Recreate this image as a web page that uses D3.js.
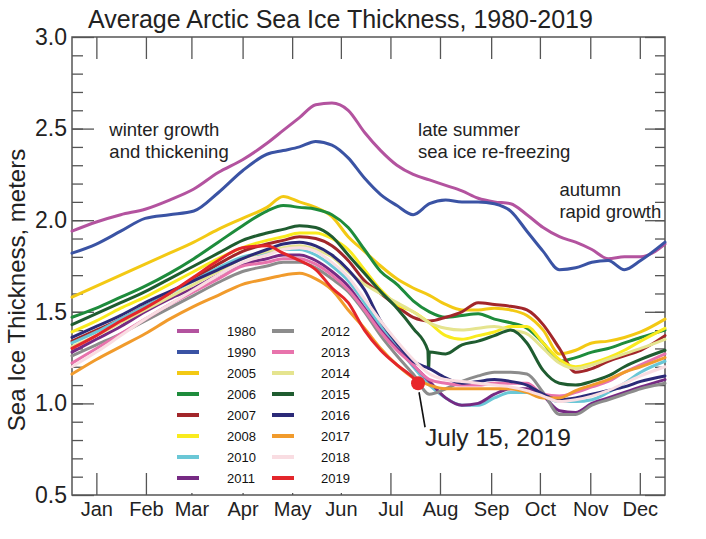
<!DOCTYPE html>
<html><head><meta charset="utf-8">
<script src="https://cdn.jsdelivr.net/npm/d3@7"></script>
<style>body{margin:0;background:#fff}svg{display:block}</style>
</head><body>
<svg id="chart" width="706" height="539"></svg>
<script>
// ---- data (day of year, thickness in metres) ----
const days = [0,15,30,45,60,75,90,105,120,130,140,150,160,170,180,190,200,210,220,230,240,250,260,270,280,290,300,310,320,330,340,350,365];
const v1980 = [1.94,1.99,2.03,2.06,2.11,2.17,2.26,2.33,2.42,2.49,2.56,2.63,2.64,2.60,2.48,2.38,2.30,2.25,2.22,2.19,2.16,2.12,2.10,2.09,2.03,1.96,1.91,1.88,1.84,1.79,1.80,1.80,1.87];
const v1990 = [1.82,1.87,1.94,2.01,2.03,2.05,2.15,2.27,2.36,2.38,2.40,2.43,2.41,2.34,2.23,2.14,2.08,2.03,2.09,2.11,2.10,2.10,2.09,2.05,1.94,1.83,1.73,1.74,1.77,1.78,1.73,1.78,1.88];
const v2005 = [1.58,1.64,1.70,1.76,1.82,1.88,1.95,2.01,2.07,2.13,2.10,2.07,2.02,1.91,1.83,1.75,1.68,1.63,1.59,1.54,1.51,1.51,1.52,1.51,1.48,1.40,1.27,1.29,1.33,1.34,1.36,1.39,1.46];
const v2006 = [1.47,1.52,1.58,1.64,1.71,1.79,1.88,1.97,2.05,2.08,2.07,2.06,2.03,1.96,1.84,1.72,1.65,1.56,1.50,1.47,1.48,1.49,1.46,1.44,1.41,1.33,1.23,1.25,1.28,1.30,1.33,1.36,1.40];
const v2007 = [1.34,1.40,1.46,1.53,1.60,1.68,1.76,1.83,1.87,1.89,1.91,1.90,1.86,1.78,1.67,1.60,1.53,1.47,1.45,1.47,1.50,1.55,1.54,1.53,1.51,1.43,1.30,1.17,1.19,1.23,1.26,1.29,1.37];
const v2008 = [1.39,1.45,1.52,1.58,1.65,1.72,1.79,1.85,1.89,1.91,1.93,1.93,1.90,1.84,1.73,1.62,1.54,1.50,1.44,1.37,1.35,1.37,1.39,1.42,1.42,1.33,1.24,1.20,1.22,1.25,1.29,1.34,1.41];
const v2010 = [1.33,1.39,1.46,1.53,1.60,1.67,1.74,1.80,1.82,1.84,1.84,1.81,1.75,1.67,1.55,1.42,1.31,1.20,1.10,1.03,0.99,0.99,1.03,1.06,1.06,1.04,1.01,1.01,1.02,1.06,1.11,1.17,1.23];
const v2011 = [1.28,1.35,1.42,1.50,1.57,1.63,1.70,1.76,1.79,1.81,1.81,1.78,1.72,1.64,1.52,1.40,1.30,1.21,1.12,1.03,0.99,1.00,1.05,1.08,1.08,1.04,0.96,0.95,1.00,1.03,1.06,1.09,1.13];
const v2012 = [1.26,1.32,1.38,1.45,1.52,1.59,1.66,1.72,1.75,1.77,1.77,1.74,1.68,1.61,1.50,1.37,1.26,1.16,1.05,1.08,1.12,1.15,1.17,1.17,1.16,1.06,0.94,0.94,0.99,1.02,1.05,1.08,1.11];
const v2013 = [1.22,1.30,1.38,1.46,1.54,1.61,1.68,1.75,1.77,1.79,1.79,1.76,1.70,1.62,1.51,1.39,1.29,1.21,1.13,1.11,1.10,1.10,1.11,1.11,1.11,1.05,1.04,1.06,1.09,1.12,1.17,1.21,1.27];
const v2014 = [1.31,1.37,1.44,1.51,1.58,1.65,1.72,1.79,1.83,1.85,1.86,1.84,1.80,1.72,1.65,1.60,1.55,1.50,1.44,1.41,1.40,1.41,1.42,1.40,1.38,1.30,1.22,1.19,1.21,1.24,1.27,1.30,1.35];
const days2015 = [0,15,30,45,60,75,90,105,120,130,140,150,160,170,180,190,200,210,219,219.5,220,230,240,250,260,270,280,290,300,310,320,330,340,350,365];
const v2015 = [1.43,1.49,1.55,1.61,1.68,1.75,1.82,1.89,1.93,1.95,1.97,1.96,1.91,1.81,1.71,1.61,1.52,1.41,1.29,1.19,1.28,1.27,1.32,1.34,1.37,1.40,1.33,1.18,1.11,1.10,1.12,1.15,1.20,1.24,1.29];
const v2016 = [1.36,1.42,1.48,1.55,1.61,1.67,1.73,1.79,1.84,1.87,1.88,1.86,1.81,1.73,1.62,1.45,1.33,1.23,1.19,1.14,1.11,1.12,1.13,1.12,1.10,1.05,1.02,1.03,1.05,1.07,1.09,1.12,1.15];
const v2017 = [1.16,1.24,1.31,1.38,1.46,1.53,1.59,1.65,1.68,1.70,1.71,1.68,1.62,1.51,1.41,1.30,1.21,1.14,1.10,1.08,1.08,1.08,1.08,1.08,1.06,1.03,1.03,1.07,1.10,1.13,1.17,1.20,1.25];
const v2018 = [1.20,1.28,1.37,1.46,1.54,1.62,1.70,1.77,1.81,1.84,1.85,1.83,1.77,1.69,1.57,1.45,1.34,1.24,1.16,1.13,1.12,1.11,1.10,1.09,1.07,1.04,1.01,1.02,1.04,1.07,1.11,1.15,1.20];
const days2019 = [0,15,30,45,60,75,90,105,120,130,140,150,160,170,180,190,200,210,213];
const v2019 = [1.30,1.37,1.45,1.52,1.60,1.69,1.78,1.85,1.86,1.82,1.78,1.73,1.63,1.55,1.40,1.29,1.21,1.14,1.11];

const years  = ["1980","1990","2005","2006","2007","2008","2010","2011","2012","2013","2014","2015","2016","2017","2018","2019"];
const colors = ["#b3539f","#3a53a4","#f3c914","#1e8c3c","#a2262a","#f9eb1e","#6ac7d6","#762a83","#8c8c8c","#e873ac","#e5e48f","#1f5c30","#2b2a78","#f19b2c","#f9dde2","#e3262b"];
const seriesValues = [v1980,v1990,v2005,v2006,v2007,v2008,v2010,v2011,v2012,v2013,v2014,v2015,v2016,v2017,v2018,v2019];
const seriesDays   = [days,days,days,days,days,days,days,days,days,days,days,days2015,days,days,days,days2019];

const monthLabels = ["Jan","Feb","Mar","Apr","May","Jun","Jul","Aug","Sep","Oct","Nov","Dec"];
const monthDays   = [15,45.5,73.5,105,135.5,165.5,196,226.5,258,288,319,349.5];
const majorTicks  = [0.5,1.0,1.5,2.0,2.5,3.0];
const minorTicks  = d3.range(6,30).map(d => d/10);
const marker = {day: 213, value: 1.11, label: "July 15, 2019"};
const notes = [
  {lines:["winter growth","and thickening"], day: 23, value: 2.46},
  {lines:["late summer","sea ice re-freezing"], day: 213, value: 2.46},
  {lines:["autumn","rapid growth"], day: 300, value: 2.13}
];

// ---- drawing ----
const svg = d3.select("#chart");
const L = 72, R = 665, T = 37, B = 495;
const x = d3.scaleLinear().domain([0,365]).range([L,R]);
const y = d3.scaleLinear().domain([0.5,3.0]).range([B,T]);
const font = "'Liberation Sans', Arial, Helvetica, sans-serif";

svg.append("rect").attr("width",706).attr("height",539).attr("fill","#fff");

function styleAxis(g){
  g.select(".domain").remove();
  g.selectAll(".tick line").attr("stroke","#555").attr("stroke-width",1.3);
  g.selectAll("text").attr("font-family",font).attr("fill","#222");
}
// left
svg.append("g").attr("transform",`translate(${L},0)`)
  .call(d3.axisLeft(y).tickValues(minorTicks).tickSize(-11).tickFormat("")).call(styleAxis);
svg.append("g").attr("transform",`translate(${L},0)`)
  .call(d3.axisLeft(y).tickValues(majorTicks).tickSize(-22).tickPadding(5).tickFormat(d3.format(".1f")))
  .call(styleAxis).call(g => g.selectAll("text").attr("font-size",23));
// right
svg.append("g").attr("transform",`translate(${R},0)`)
  .call(d3.axisRight(y).tickValues(minorTicks).tickSize(-10).tickFormat("")).call(styleAxis);
svg.append("g").attr("transform",`translate(${R},0)`)
  .call(d3.axisRight(y).tickValues(majorTicks).tickSize(-20).tickFormat("")).call(styleAxis);
// top / bottom
svg.append("g").attr("transform",`translate(0,${T})`)
  .call(d3.axisTop(x).tickValues(monthDays).tickSize(-22).tickFormat("")).call(styleAxis);
svg.append("g").attr("transform",`translate(0,${B})`)
  .call(d3.axisBottom(x).tickValues(monthDays).tickSize(-22).tickPadding(7).tickFormat((d,i)=>monthLabels[i]))
  .call(styleAxis).call(g => g.selectAll("text").attr("font-size",20));

// legend backdrop
svg.append("rect").attr("x",170).attr("y",322).attr("width",192).attr("height",171).attr("fill","#fff");

// frame
svg.append("rect").attr("x",L).attr("y",T).attr("width",R-L).attr("height",B-T)
  .attr("fill","none").attr("stroke","#555").attr("stroke-width",1.5);

// lines
const line = d3.line().curve(d3.curveMonotoneX).x(d=>x(d[0])).y(d=>y(d[1]));
seriesValues.forEach((vals,i) => {
  const pts = vals.map((v,j) => [seriesDays[i][j], v]);
  svg.append("path").datum(pts).attr("d",line)
    .attr("fill","none").attr("stroke",colors[i]).attr("stroke-width",3)
    .attr("stroke-linejoin","round").attr("stroke-linecap","round");
});

// marker
svg.append("line").attr("x1",x(marker.day)+1).attr("y1",y(marker.value)+9)
  .attr("x2",x(marker.day)+7).attr("y2",y(marker.value)+44).attr("stroke","#111").attr("stroke-width",1.6);
svg.append("circle").attr("cx",x(marker.day)).attr("cy",y(marker.value)).attr("r",7).attr("fill","#e8262b");
svg.append("text").attr("x",x(marker.day)+7).attr("y",y(marker.value)+63)
  .attr("font-family",font).attr("font-size",24.5).attr("fill","#222").text(marker.label);

// notes
notes.forEach(n => {
  n.lines.forEach((t,k) => {
    svg.append("text").attr("x",x(n.day)).attr("y",y(n.value)+k*22)
      .attr("font-family",font).attr("font-size",18.5).attr("fill","#222").text(t);
  });
});

// legend
years.forEach((yr,i) => {
  const col = i < 8 ? 0 : 1, row = i % 8;
  const sx = col ? 272 : 177, tx = col ? 321 : 227, cy = 331 + row*21;
  svg.append("line").attr("x1",sx).attr("x2",sx+22).attr("y1",cy).attr("y2",cy)
    .attr("stroke",colors[i]).attr("stroke-width",4);
  svg.append("text").attr("x",tx).attr("y",cy+4.5).attr("font-family",font)
    .attr("font-size",13).attr("fill","#111").text(yr);
});

// titles
svg.append("text").attr("x",88).attr("y",28).attr("font-family",font).attr("font-size",25)
  .attr("fill","#222").text("Average Arctic Sea Ice Thickness, 1980-2019");
svg.append("text").attr("transform","translate(25,290) rotate(-90)").attr("text-anchor","middle")
  .attr("font-family",font).attr("font-size",24).attr("fill","#222").text("Sea Ice Thickness, meters");
</script>
</body></html>
